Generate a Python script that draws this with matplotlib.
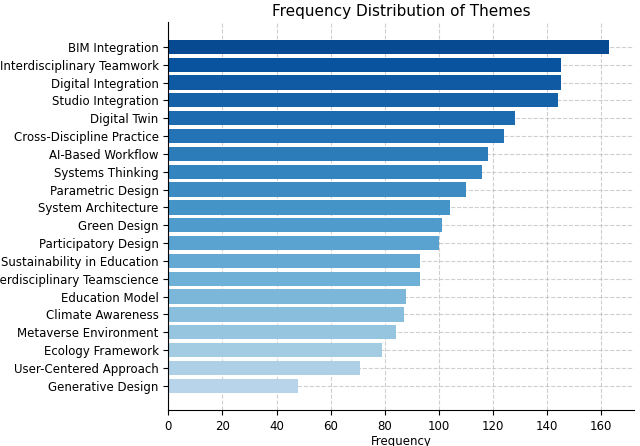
import numpy as np
import matplotlib
matplotlib.use("Agg")
import matplotlib.pyplot as plt

themes = [
    "BIM Integration", "Interdisciplinary Teamwork", "Digital Integration",
    "Studio Integration", "Digital Twin", "Cross-Discipline Practice",
    "AI-Based Workflow", "Systems Thinking", "Parametric Design",
    "System Architecture", "Green Design", "Participatory Design",
    "Sustainability in Education", "Interdisciplinary Teamscience",
    "Education Model", "Climate Awareness", "Metaverse Environment",
    "Ecology Framework", "User-Centered Approach", "Generative Design",
]
counts = [163, 145, 145, 144, 128, 124, 118, 116, 110, 104,
          101, 100, 93, 93, 88, 87, 84, 79, 71, 48]

colors = plt.cm.Blues(np.linspace(0.9, 0.3, len(themes)))

fig = plt.figure(figsize=(6.4, 4.46), dpi=100)
ax = fig.add_axes([0.263, 0.081, 0.727, 0.87])
y = np.arange(len(themes))
ax.barh(y, counts, color=colors, zorder=2)
ax.set_yticks(y)
ax.set_yticklabels(themes, fontsize=8.5)
ax.set_ylim(len(themes) - 1 + 1.35, -1.4)
ax.set_xlim(0, 172)
ax.tick_params(axis="x", labelsize=8.5)
ax.set_xlabel("Frequency", fontsize=8.5, labelpad=2)
ax.set_title("Frequency Distribution of Themes", fontsize=11, pad=4)
ax.grid(True, linestyle="--", alpha=0.6, zorder=0)
ax.spines["top"].set_visible(False)
ax.spines["right"].set_visible(False)
fig.savefig("out.png")
